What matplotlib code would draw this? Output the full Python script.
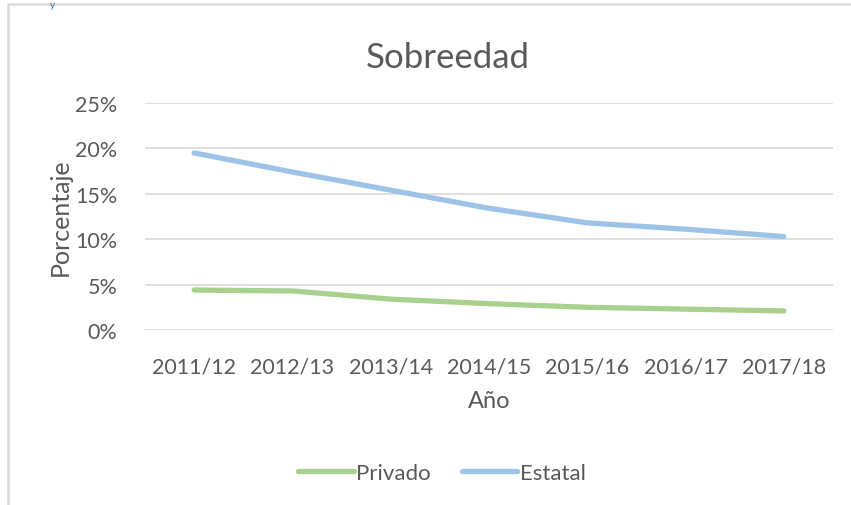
import matplotlib.pyplot as plt
from matplotlib.patches import Rectangle
from matplotlib.ticker import PercentFormatter

years = ['2011/12', '2012/13', '2013/14', '2014/15', '2015/16', '2016/17', '2017/18']
privado = [4.4, 4.3, 3.4, 2.9, 2.5, 2.3, 2.1]
estatal = [19.5, 17.4, 15.4, 13.4, 11.8, 11.1, 10.3]

plt.rcParams['font.family'] = ['Lato', 'DejaVu Sans']
gray = '#595959'

fig = plt.figure(figsize=(8.51, 5.06), dpi=100)
ax = fig.add_axes([145/851, 1 - 331/506, 688/851, 227/506])

x = range(len(years))
ax.plot(x, privado, color='#A9D18E', lw=3.8, solid_capstyle='round', label='Privado')
ax.plot(x, estatal, color='#9DC3E6', lw=3.8, solid_capstyle='round', label='Estatal')

ax.set_xlim(-0.5, len(years) - 0.5)
ax.set_ylim(0, 25)
ax.set_yticks([0, 5, 10, 15, 20, 25])
ax.yaxis.set_major_formatter(PercentFormatter(decimals=0))
ax.set_xticks(list(x))
ax.set_xticklabels(years)
ax.grid(axis='y', color='#d9d9d9', lw=1.2)
ax.set_axisbelow(True)
for s in ax.spines.values():
    s.set_visible(False)
ax.tick_params(length=0, labelsize=15.5, colors=gray)
ax.tick_params(axis='x', pad=19)
ax.tick_params(axis='y', pad=20)

fig.text(448/851, 1 - 58/506, 'Sobreedad', fontsize=25, color=gray, ha='center', va='center')
ax.set_ylabel('Porcentaje', fontsize=18, color=gray, labelpad=2)
ax.set_xlabel('Año', fontsize=17, color=gray, labelpad=10)

fig.legend(loc='center', bbox_to_anchor=(442/851, 1 - 474/506), ncol=2, frameon=False,
           fontsize=16, labelcolor=gray, handlelength=2.5, handletextpad=0.1, columnspacing=1.4)

# chart border
fig.add_artist(Rectangle((8/851, -0.05), 1.2, 1 - 5/506 + 0.05, transform=fig.transFigure,
                         fill=False, edgecolor='#d9d9d9', lw=1.8))
fig.text(52/851, 0.999, 'y', color='#2E75B6', fontsize=7, ha='center', va='top')

fig.savefig('out.png', dpi=100)
